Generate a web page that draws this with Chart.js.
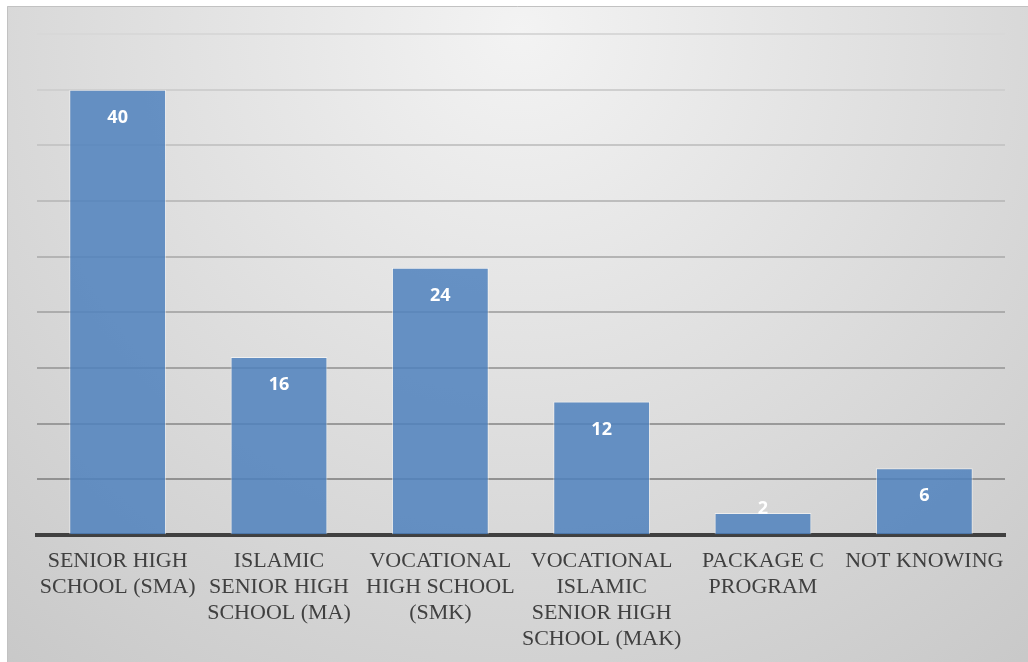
<!DOCTYPE html>
<html>
<head>
<meta charset="utf-8">
<script src="https://cdn.jsdelivr.net/npm/chart.js@4/dist/chart.umd.min.js"></script>
<style>
  html, body { margin: 0; padding: 0; background: #ffffff; }
  #wrap { width: 1028px; height: 662px; position: relative; }
</style>
</head>
<body>
<div id="wrap"><canvas id="chart"></canvas></div>
<script>
// School types and number of respondents in each
const categories = [
  ["SENIOR HIGH", "SCHOOL (SMA)"],
  ["ISLAMIC", "SENIOR HIGH", "SCHOOL (MA)"],
  ["VOCATIONAL", "HIGH SCHOOL", "(SMK)"],
  ["VOCATIONAL", "ISLAMIC", "SENIOR HIGH", "SCHOOL (MAK)"],
  ["PACKAGE C", "PROGRAM"],
  ["NOT KNOWING"]
];
const counts = [40, 16, 24, 12, 2, 6];
const yMin = 0;
const yMax = 45;
const yStep = 5;

// Grey panel with a soft radial light behind the plot
const panelBackground = {
  id: 'panelBackground',
  beforeDraw(chart) {
    const ctx = chart.ctx;
    const w = chart.width, h = chart.height;
    ctx.save();
    ctx.fillStyle = '#ffffff';
    ctx.fillRect(0, 0, w, h);
    const g = ctx.createRadialGradient(520, 30, 0, 520, 30, 900);
    g.addColorStop(0, '#f3f3f3');
    g.addColorStop(1, '#c4c4c4');
    ctx.fillStyle = g;
    ctx.fillRect(7, 6, w - 7, h - 6);
    ctx.strokeStyle = '#c2c2c2';
    ctx.lineWidth = 1;
    ctx.beginPath();
    ctx.moveTo(7.5, h);
    ctx.lineTo(7.5, 6.5);
    ctx.lineTo(w, 6.5);
    ctx.stroke();
    ctx.restore();
  }
};

// White value labels near the top of each bar
const valueLabels = {
  id: 'valueLabels',
  afterDatasetsDraw(chart) {
    const ctx = chart.ctx;
    const meta = chart.getDatasetMeta(0);
    ctx.save();
    ctx.fillStyle = '#ffffff';
    ctx.font = 'bold 18px "Open Sans", "Liberation Sans", sans-serif';
    ctx.textAlign = 'center';
    ctx.textBaseline = 'middle';
    meta.data.forEach((bar, i) => {
      const v = chart.data.datasets[0].data[i];
      const y = Math.min(bar.y + 28, bar.base - 25);
      ctx.fillText(String(v), bar.x, y);
    });
    ctx.restore();
  }
};

// Gridlines fade from dark near the baseline to light at the top
function gridShade(value) {
  const t = (value - yMin) / (yMax - yMin);
  const c = Math.round(136 + t * (216 - 136));
  return 'rgb(' + c + ',' + c + ',' + c + ')';
}

new Chart(document.getElementById('chart'), {
  type: 'bar',
  data: {
    labels: categories,
    datasets: [{
      data: counts,
      backgroundColor: 'rgba(79,129,189,0.85)',
      borderColor: 'rgba(255,255,255,0.55)',
      borderWidth: 1,
      categoryPercentage: 1.0,
      barPercentage: 0.6
    }]
  },
  options: {
    responsive: true,
    maintainAspectRatio: false,
    animation: false,
    layout: { padding: { left: 37, right: 23, top: 34, bottom: -3 } },
    plugins: {
      legend: { display: false },
      tooltip: { enabled: false },
      title: { display: false }
    },
    scales: {
      x: {
        grid: { display: false, drawTicks: false },
        border: { display: true, color: '#404040', width: 4 },
        ticks: {
          color: '#404040',
          padding: 13,
          maxRotation: 0,
          autoSkip: false,
          font: { family: '"Liberation Serif", serif', size: 22, lineHeight: 1.18 }
        }
      },
      y: {
        min: yMin,
        max: yMax,
        ticks: { display: false, stepSize: yStep },
        border: { display: false },
        grid: {
          drawTicks: false,
          lineWidth: 2,
          color: (ctx) => gridShade(ctx.tick ? ctx.tick.value : 0)
        }
      }
    }
  },
  plugins: [panelBackground, valueLabels]
});
</script>
</body>
</html>
